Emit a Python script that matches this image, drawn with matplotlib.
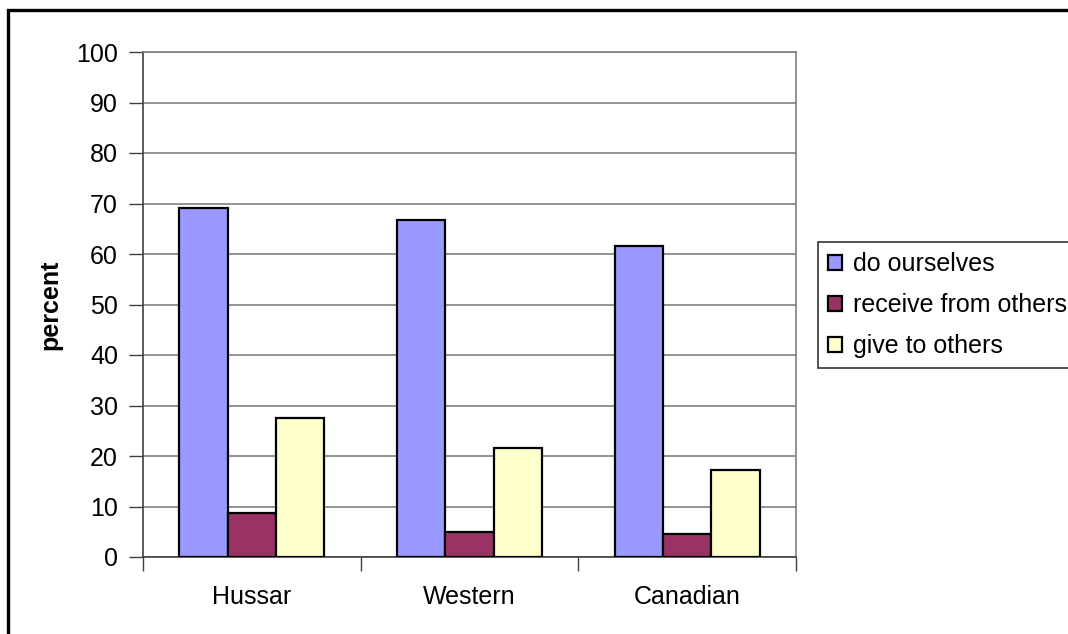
import numpy as np
import matplotlib.pyplot as plt
from matplotlib.patches import Rectangle

# ---------- DATA ----------
categories = ["Hussar", "Western", "Canadian"]
series_names = ["do ourselves", "receive from others", "give to others"]
do_ourselves = [69.2, 66.7, 61.6]
receive_from_others = [8.7, 5.0, 4.5]
give_to_others = [27.6, 21.6, 17.2]
y_ticks = list(range(0, 101, 10))
# --------------------------

colors = ["#9999FF", "#993366", "#FFFFCC"]
FONT = "Liberation Sans"
FS = 18

plt.rcParams["font.family"] = [FONT, "DejaVu Sans"]

W, H = 1068, 634
fig = plt.figure(figsize=(W / 100, H / 100), dpi=100)
fig.patch.set_facecolor("white")

# outer chart frame (runs off the right and bottom edges)
fig.patches.append(Rectangle((8 / W, -0.2), 1.2, 1.2 - 10 / H,
                             transform=fig.transFigure, fill=False,
                             edgecolor="black", linewidth=2.4, clip_on=False))

left, right, top, bottom = 143, 796, 52, 557
ax = fig.add_axes([left / W, 1 - bottom / H, (right - left) / W, (bottom - top) / H])

x = np.arange(len(categories))
w = 1 / 4.5
all_series = [do_ourselves, receive_from_others, give_to_others]
for k, (vals, name) in enumerate(zip(all_series, series_names)):
    ax.bar(x + (k - 1) * w, vals, width=w, color=colors[k], edgecolor="black",
           linewidth=1.6, label=name, zorder=3)

ax.set_xlim(-0.5, len(categories) - 0.5)
ax.set_ylim(0, 100)
ax.set_yticks(y_ticks)
ax.set_yticklabels([str(v) for v in y_ticks], fontsize=FS)
ax.yaxis.grid(True, color="#808080", linewidth=1.2, zorder=0)

ax.set_xticks(x)
ax.set_xticklabels(categories, fontsize=FS)
ax.set_xticks(np.arange(-0.5, len(categories)), minor=True)
ax.tick_params(axis="x", which="major", length=0, pad=20)
ax.tick_params(axis="x", which="minor", length=10, width=1, color="#404040")
ax.tick_params(axis="y", length=10, width=1, color="#404040", pad=8)

for s in ["left", "bottom"]:
    ax.spines[s].set_color("#404040")
    ax.spines[s].set_linewidth(1.2)
for s in ["top", "right"]:
    ax.spines[s].set_color("#808080")
    ax.spines[s].set_linewidth(1.2)

fig.text(50 / W, 1 - 305 / H, "percent", rotation=90, fontsize=FS,
         fontweight="bold", ha="center", va="center")

leg = fig.legend(loc="upper left", bbox_to_anchor=(818 / W, 1 - 242 / H),
                 fontsize=FS, frameon=True, fancybox=False, edgecolor="black",
                 handlelength=0.55, handleheight=0.55, handletextpad=0.45,
                 labelspacing=0.68, borderpad=0.4, borderaxespad=0)
leg.get_frame().set_linewidth(1.2)

fig.savefig("out.png", dpi=100, facecolor="white")
